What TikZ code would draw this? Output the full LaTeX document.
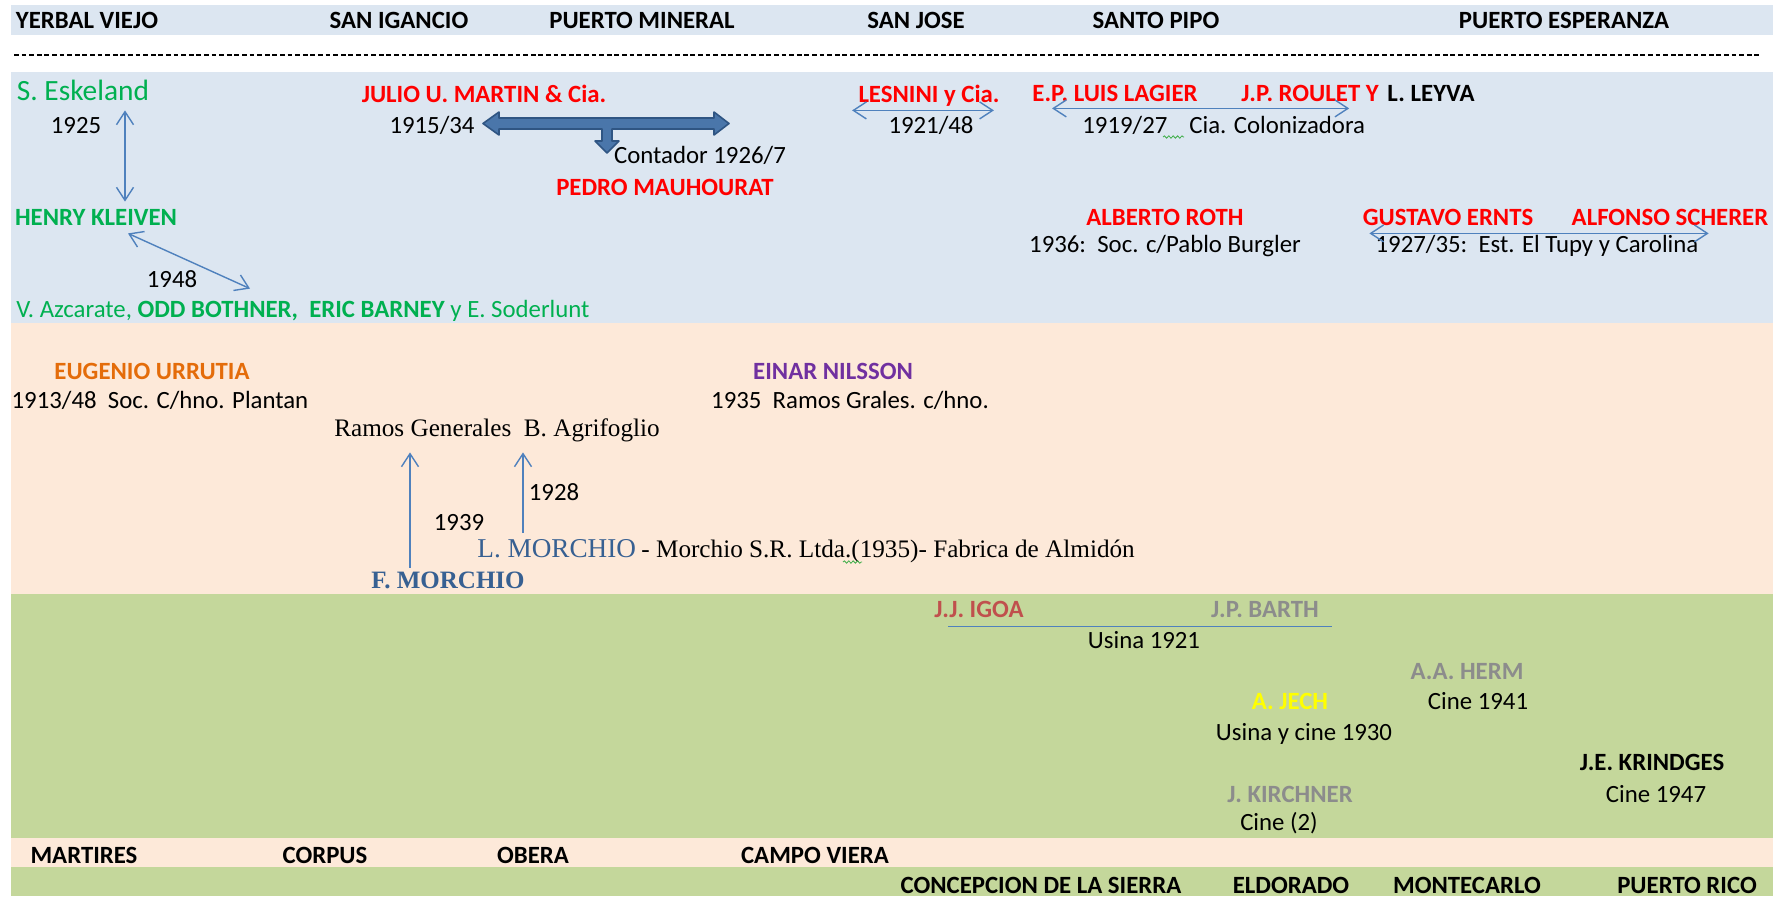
\documentclass[tikz,border=0pt]{standalone}
\usepackage{fontspec}
\setmainfont{Carlito}
\newfontfamily\serifface{Liberation Serif}
\usetikzlibrary{arrows.meta,decorations.pathmorphing}
\definecolor{cTop}{HTML}{DCE6F1}
\definecolor{cPeach}{HTML}{FDE9D9}
\definecolor{cOlive}{HTML}{C4D79B}
\definecolor{cLine}{HTML}{4F81BD}
\definecolor{cBlock}{HTML}{4A76AA}
\definecolor{cBlockEdge}{HTML}{2F5583}
\definecolor{cGreen}{HTML}{00B050}
\definecolor{cRed}{HTML}{FF0000}
\definecolor{cOrange}{HTML}{E46C0A}
\definecolor{cPurple}{HTML}{7030A0}
\definecolor{cBrick}{HTML}{C0504D}
\definecolor{cGrey}{HTML}{8C8C8C}
\definecolor{cYellow}{HTML}{FFFF00}
\definecolor{cSerifBlue}{HTML}{376092}
\definecolor{cSpell}{HTML}{3FAE49}
\tikzset{
  txt/.style={anchor=base, inner sep=0pt, text height=8.5pt, text depth=2.5pt,
              font=\fontsize{12.4}{14}\selectfont},
  town/.style={txt, font=\fontsize{12.4}{14}\selectfont\bfseries},
  who/.style={town, text=#1},
  srf/.style={txt, font=\serifface\fontsize{12.6}{14}\selectfont},
  link/.style={{Straight Barb[length=6.5pt,width=8.5pt]}-{Straight Barb[length=6.5pt,width=8.5pt]},
               line width=0.7pt, draw=cLine},
  rise/.style={-{Straight Barb[length=6.5pt,width=8.5pt]}, line width=0.7pt, draw=cLine},
  spell/.style={draw=cSpell, line width=0.4pt, decorate,
                decoration={snake, amplitude=0.6pt, segment length=2.2pt}},
}
\begin{document}
\begin{tikzpicture}[x=0.5pt, y=-0.5pt]
  \useasboundingbox (0,0) rectangle (1778,896);
  \fill[cTop] (11,5) rectangle (1773,35);
  \fill[cTop] (11,72) rectangle (1773,323);
  \fill[cPeach] (11,323) rectangle (1773,594);
  \fill[cOlive] (11,594) rectangle (1773,838);
  \fill[cPeach] (11,838) rectangle (1773,867);
  \fill[cOlive] (11,867) rectangle (1773,896);

  \node[town] (yerbal) at (87,28) {YERBAL VIEJO};
  \node[town] (ignacio) at (399,28) {SAN IGANCIO};
  \node[town] (mineral) at (642,28) {PUERTO MINERAL};
  \node[town] (sanjose) at (916,28) {SAN JOSE};
  \node[town] (pipo) at (1156,28) {SANTO PIPO};
  \node[town] (esperanza) at (1564,28) {PUERTO ESPERANZA};
  \draw[line width=0.6pt, dash pattern=on 2.4pt off 1.4pt] (14,55) -- (1761,55);

  \node[txt, text=cGreen, font=\fontsize{14.7}{16}\selectfont] (esk) at (83,100) {S. Eskeland};
  \node[txt] (y1925) at (76,133) {1925};
  \node[who=cGreen] (hk) at (96,225) {HENRY KLEIVEN};
  \node[txt] (y1948) at (172,287) {1948};
  \node[txt, anchor=base west, text=cGreen] (azc) at (16,317)
    {V. Azcarate, \textbf{ODD BOTHNER,\ \ ERIC BARNEY} y E. Soderlunt};
  \draw[link] ([shift={(42,5)}]esk.south) -- ([shift={(29,-6)}]hk.north);
  \draw[link] ([shift={(32,3)}]hk.south) -- ([shift={(234,-11)}]azc.north west);

  \node[who=cRed] (martin) at (484,102) {JULIO U. MARTIN \& Cia.};
  \node[txt] (y1915) at (432,133) {1915/34};
  \node[txt] (contador) at (700,163) {Contador 1926/7};
  \node[who=cRed] (pedro) at (665,195) {PEDRO\ MAUHOURAT};
  \filldraw[fill=cBlock, draw=cBlockEdge, line width=0.8pt, line join=round]
    (483,123.5) -- (499,112) -- (499,118) -- (714,118) -- (714,112) -- (729,123.5)
    -- (714,135) -- (714,129) -- (612,129) -- (612,141) -- (619,141) -- (607,153)
    -- (595,141) -- (602,141) -- (602,129) -- (499,129) -- (499,135) -- cycle;

  \node[who=cRed] (lesnini) at (929,102) {LESNINI y Cia.};
  \node[txt] (y1921) at (931,133) {1921/48};
  \draw[link] ([shift={(-6,3)}]lesnini.south west) -- ([shift={(-6,3)}]lesnini.south east);

  \node[who=cRed] (lagier) at (1115,101) {E.P. LUIS LAGIER};
  \node[who=cRed, anchor=base west] (roulet) at (1241,101) {J.P. ROULET Y};
  \node[who=black, anchor=base west] (leyva) at (1387,101) {L. LEYVA};
  \node[txt, anchor=base west] (coloniz) at (1082,133) {1919/27\hspace*{11pt}Cia. Colonizadora};
  \draw[link] ([shift={(20,2)}]lagier.south west) -- ([shift={(-30,2)}]roulet.south east);
  \draw[spell] (1163,137) -- (1184,137);

  \node[who=cRed] (roth) at (1165,225) {ALBERTO\ ROTH};
  \node[txt] (burgler) at (1165,252) {1936:\ \ Soc. c/Pablo Burgler};
  \node[who=cRed] (ernts) at (1448,225) {GUSTAVO ERNTS};
  \node[who=cRed] (scherer) at (1670,225) {ALFONSO SCHERER};
  \node[txt] (tupy) at (1537,252) {1927/35:\ \ Est. El Tupy y Carolina};
  \draw[link] ([shift={(7,3)}]ernts.south west) -- ([shift={(-60,3)}]scherer.south east);

  \node[who=cOrange] (urrutia) at (152,379) {EUGENIO URRUTIA};
  \node[txt] (plantan) at (160,408) {1913/48\ \ Soc. C/hno. Plantan};
  \node[who=cPurple] (nilsson) at (833,379) {EINAR NILSSON};
  \node[txt] (grales) at (850,408) {1935\ \ Ramos Grales. c/hno.};
  \node[srf] (ramos) at (497,436) {Ramos Generales\ \ B. Agrifoglio};
  \node[txt] (y1928) at (554,500) {1928};
  \node[txt] (y1939) at (459,530) {1939};
  \node[srf, anchor=base west, text=cSerifBlue, font=\serifface\fontsize{13.6}{15}\selectfont] (lmor) at (477,557) {L. MORCHIO};
  \node[srf, anchor=base west] (almidon) at (641,557) {- Morchio S.R. Ltda.(1935)- Fabrica de Almidón};
  \node[srf, text=cSerifBlue, font=\serifface\fontsize{12.5}{14}\selectfont\bfseries] (fmor) at (448,588) {F. MORCHIO};
  \draw[rise] ([shift={(-38,-3)}]fmor.north) -- ([shift={(-87,11)}]ramos.south);
  \draw[rise] ([shift={(46,-7)}]lmor.north west) -- ([shift={(26,11)}]ramos.south);
  \draw[spell] (843,562) -- (862,562);

  \node[who=cBrick] (igoa) at (979,617) {J.J. IGOA};
  \node[who=cGrey] (barth) at (1265,617) {J.P. BARTH};
  \draw[draw=cLine, line width=0.8pt] ([shift={(14,4)}]igoa.south west) -- ([shift={(13,4)}]barth.south east);
  \node[txt] (usina21) at (1144,648) {Usina 1921};
  \node[who=cGrey] (herm) at (1467,679) {A.A. HERM};
  \node[who=cYellow] (jech) at (1290,709) {A. JECH};
  \node[txt] (cine41) at (1478,709) {Cine 1941};
  \node[txt] (usina30) at (1304,740) {Usina y cine 1930};
  \node[who=black] (krindges) at (1652,770) {J.E. KRINDGES};
  \node[txt] (cine47) at (1656,802) {Cine 1947};
  \node[who=cGrey] (kirchner) at (1290,802) {J. KIRCHNER};
  \node[txt] (cine2) at (1279,830) {Cine (2)};

  \node[town] (martires) at (84,863) {MARTIRES};
  \node[town] (corpus) at (325,863) {CORPUS};
  \node[town] (obera) at (533,863) {OBERA};
  \node[town] (campo) at (815,863) {CAMPO VIERA};
  \node[town] (sierra) at (1041,893) {CONCEPCION DE LA SIERRA};
  \node[town] (eldorado) at (1291,893) {ELDORADO};
  \node[town] (montecarlo) at (1467,893) {MONTECARLO};
  \node[town] (rico) at (1687,893) {PUERTO RICO};
\end{tikzpicture}
\end{document}
